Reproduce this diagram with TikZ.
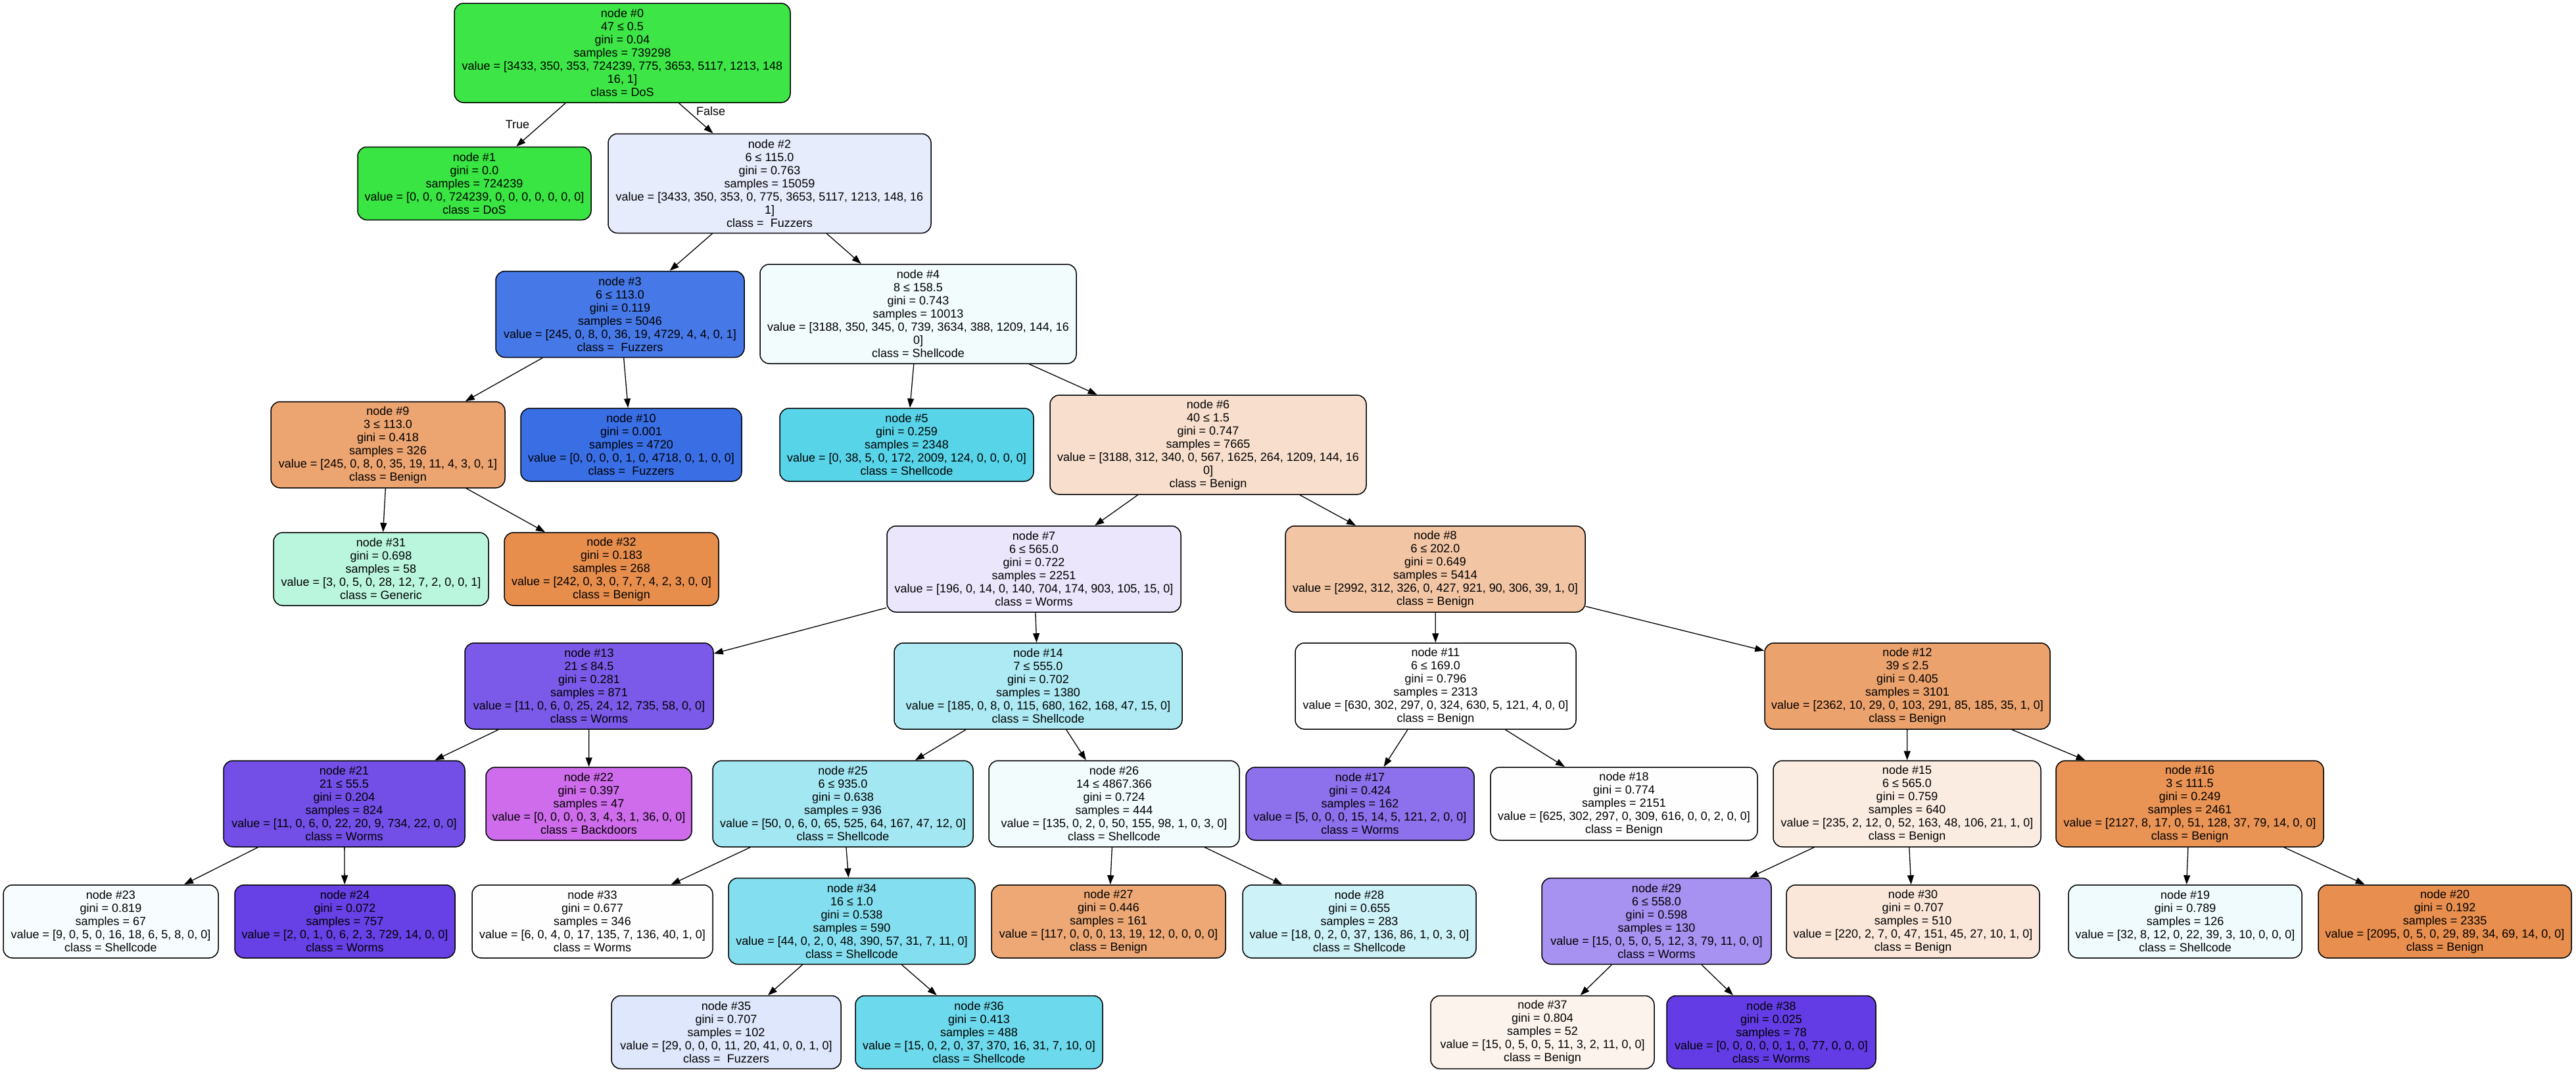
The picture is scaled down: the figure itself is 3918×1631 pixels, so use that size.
\documentclass[tikz,border=0pt]{standalone}
\usepackage{fontspec}
\setmainfont{Liberation Sans}
\usetikzlibrary{arrows.meta}
% fill colours: class colour blended with white by purity
\definecolor{c0}{RGB}{61,230,70}
\definecolor{c1}{RGB}{57,229,66}
\definecolor{c2}{RGB}{230,236,252}
\definecolor{c3}{RGB}{70,120,231}
\definecolor{c4}{RGB}{242,252,253}
\definecolor{c5}{RGB}{88,212,233}
\definecolor{c6}{RGB}{248,222,204}
\definecolor{c7}{RGB}{235,230,252}
\definecolor{c8}{RGB}{242,197,164}
\definecolor{c9}{RGB}{236,164,112}
\definecolor{c10}{RGB}{57,110,229}
\definecolor{c11}{RGB}{255,255,255}
\definecolor{c12}{RGB}{236,162,109}
\definecolor{c13}{RGB}{123,90,233}
\definecolor{c14}{RGB}{173,234,244}
\definecolor{c15}{RGB}{251,236,225}
\definecolor{c16}{RGB}{233,147,85}
\definecolor{c17}{RGB}{141,112,236}
\definecolor{c18}{RGB}{255,254,254}
\definecolor{c19}{RGB}{240,251,253}
\definecolor{c20}{RGB}{232,142,78}
\definecolor{c21}{RGB}{115,79,232}
\definecolor{c22}{RGB}{207,108,236}
\definecolor{c23}{RGB}{247,253,254}
\definecolor{c24}{RGB}{103,64,230}
\definecolor{c25}{RGB}{163,231,243}
\definecolor{c26}{RGB}{242,252,253}
\definecolor{c27}{RGB}{237,168,118}
\definecolor{c28}{RGB}{205,242,248}
\definecolor{c29}{RGB}{167,145,241}
\definecolor{c30}{RGB}{250,231,217}
\definecolor{c31}{RGB}{186,246,222}
\definecolor{c32}{RGB}{232,142,77}
\definecolor{c33}{RGB}{254,254,255}
\definecolor{c34}{RGB}{131,223,239}
\definecolor{c35}{RGB}{222,231,251}
\definecolor{c36}{RGB}{109,217,236}
\definecolor{c37}{RGB}{252,243,236}
\definecolor{c38}{RGB}{99,60,229}
\begin{document}
\begin{tikzpicture}[x=1pt,y=-1pt,
  tn/.style={draw=black, line width=1.5pt, rounded corners=14pt, align=center,
             inner sep=0pt, font=\fontsize{18}{20}\selectfont},
  l5/.style={minimum height=111pt},
  l6/.style={minimum height=131pt},
  l7/.style={minimum height=151pt},
  w/.style={minimum width=#1pt},
  edge/.style={draw=black, line width=1.3pt, -{Triangle[length=14pt,width=10pt]}},
  lbl/.style={font=\fontsize{18}{20}\selectfont, inner sep=0pt}]
\useasboundingbox[fill=white] (0,0) rectangle (3918,1631);

% level 0
\node[tn,l7,w=511,fill=c0] (n0) at (946.5,80.5) {node \#0\\47 ≤ 0.5\\gini = 0.04\\samples = 739298\\value = [3433, 350, 353, 724239, 775, 3653, 5117, 1213, 148\\16, 1]\\class = DoS};
% level 1
\node[tn,l5,w=355,fill=c1] (n1) at (721.5,279) {node \#1\\gini = 0.0\\samples = 724239\\value = [0, 0, 0, 724239, 0, 0, 0, 0, 0, 0, 0]\\class = DoS};
\node[tn,l7,w=491,fill=c2] (n2) at (1170.5,279) {node \#2\\6 ≤ 115.0\\gini = 0.763\\samples = 15059\\value = [3433, 350, 353, 0, 775, 3653, 5117, 1213, 148, 16\\1]\\class = \ Fuzzers};
% level 2
\node[tn,l6,w=378,fill=c3] (n3) at (943,478) {node \#3\\6 ≤ 113.0\\gini = 0.119\\samples = 5046\\value = [245, 0, 8, 0, 36, 19, 4729, 4, 4, 0, 1]\\class = \ Fuzzers};
\node[tn,l7,w=481,fill=c4] (n4) at (1396.5,477.5) {node \#4\\8 ≤ 158.5\\gini = 0.743\\samples = 10013\\value = [3188, 350, 345, 0, 739, 3634, 388, 1209, 144, 16\\0]\\class = Shellcode};
% level 3
\node[tn,l6,w=356,fill=c9] (n9) at (590,676.5) {node \#9\\3 ≤ 113.0\\gini = 0.418\\samples = 326\\value = [245, 0, 8, 0, 35, 19, 11, 4, 3, 0, 1]\\class = Benign};
\node[tn,l5,w=336,fill=c10] (n10) at (960,676.5) {node \#10\\gini = 0.001\\samples = 4720\\value = [0, 0, 0, 0, 1, 0, 4718, 0, 1, 0, 0]\\class = \ Fuzzers};
\node[tn,l5,w=386,fill=c5] (n5) at (1379,676.5) {node \#5\\gini = 0.259\\samples = 2348\\value = [0, 38, 5, 0, 172, 2009, 124, 0, 0, 0, 0]\\class = Shellcode};
\node[tn,l7,w=481,fill=c6] (n6) at (1837.5,676.5) {node \#6\\40 ≤ 1.5\\gini = 0.747\\samples = 7665\\value = [3188, 312, 340, 0, 567, 1625, 264, 1209, 144, 16\\0]\\class = Benign};
% level 4
\node[tn,l5,w=327,fill=c31] (n31) at (579.5,865.5) {node \#31\\gini = 0.698\\samples = 58\\value = [3, 0, 5, 0, 28, 12, 7, 2, 0, 0, 1]\\class = Generic};
\node[tn,l5,w=326,fill=c32] (n32) at (930,865.5) {node \#32\\gini = 0.183\\samples = 268\\value = [242, 0, 3, 0, 7, 7, 4, 2, 3, 0, 0]\\class = Benign};
\node[tn,l6,w=447,fill=c7] (n7) at (1572.5,865.5) {node \#7\\6 ≤ 565.0\\gini = 0.722\\samples = 2251\\value = [196, 0, 14, 0, 140, 704, 174, 903, 105, 15, 0]\\class = Worms};
\node[tn,l6,w=456,fill=c8] (n8) at (2183,865.5) {node \#8\\6 ≤ 202.0\\gini = 0.649\\samples = 5414\\value = [2992, 312, 326, 0, 427, 921, 90, 306, 39, 1, 0]\\class = Benign};
% level 5
\node[tn,l6,w=378,fill=c13] (n13) at (896,1043.5) {node \#13\\21 ≤ 84.5\\gini = 0.281\\samples = 871\\value = [11, 0, 6, 0, 25, 24, 12, 735, 58, 0, 0]\\class = Worms};
\node[tn,l6,w=438,fill=c14] (n14) at (1579,1043.5) {node \#14\\7 ≤ 555.0\\gini = 0.702\\samples = 1380\\value = [185, 0, 8, 0, 115, 680, 162, 168, 47, 15, 0]\\class = Shellcode};
\node[tn,l6,w=427,fill=c11] (n11) at (2183.5,1043.5) {node \#11\\6 ≤ 169.0\\gini = 0.796\\samples = 2313\\value = [630, 302, 297, 0, 324, 630, 5, 121, 4, 0, 0]\\class = Benign};
\node[tn,l6,w=434,fill=c12] (n12) at (2901,1043.5) {node \#12\\39 ≤ 2.5\\gini = 0.405\\samples = 3101\\value = [2362, 10, 29, 0, 103, 291, 85, 185, 35, 1, 0]\\class = Benign};
% level 6
\node[tn,l6,w=367,fill=c21] (n21) at (523.5,1222.5) {node \#21\\21 ≤ 55.5\\gini = 0.204\\samples = 824\\value = [11, 0, 6, 0, 22, 20, 9, 734, 22, 0, 0]\\class = Worms};
\node[tn,l5,w=313,fill=c22] (n22) at (895.5,1222.5) {node \#22\\gini = 0.397\\samples = 47\\value = [0, 0, 0, 0, 3, 4, 3, 1, 36, 0, 0]\\class = Backdoors};
\node[tn,l6,w=396,fill=c25] (n25) at (1282,1222.5) {node \#25\\6 ≤ 935.0\\gini = 0.638\\samples = 936\\value = [50, 0, 6, 0, 65, 525, 64, 167, 47, 12, 0]\\class = Shellcode};
\node[tn,l6,w=381,fill=c26] (n26) at (1694.5,1222.5) {node \#26\\14 ≤ 4867.366\\gini = 0.724\\samples = 444\\value = [135, 0, 2, 0, 50, 155, 98, 1, 0, 3, 0]\\class = Shellcode};
\node[tn,l5,w=347,fill=c17] (n17) at (2068.5,1222.5) {node \#17\\gini = 0.424\\samples = 162\\value = [5, 0, 0, 0, 15, 14, 5, 121, 2, 0, 0]\\class = Worms};
\node[tn,l5,w=406,fill=c18] (n18) at (2470,1222.5) {node \#18\\gini = 0.774\\samples = 2151\\value = [625, 302, 297, 0, 309, 616, 0, 0, 2, 0, 0]\\class = Benign};
\node[tn,l6,w=407,fill=c15] (n15) at (2900.5,1222.5) {node \#15\\6 ≤ 565.0\\gini = 0.759\\samples = 640\\value = [235, 2, 12, 0, 52, 163, 48, 106, 21, 1, 0]\\class = Benign};
\node[tn,l6,w=407,fill=c16] (n16) at (3330.5,1222.5) {node \#16\\3 ≤ 111.5\\gini = 0.249\\samples = 2461\\value = [2127, 8, 17, 0, 51, 128, 37, 79, 14, 0, 0]\\class = Benign};
% level 7
\node[tn,l5,w=327,fill=c23] (n23) at (168.5,1401.5) {node \#23\\gini = 0.819\\samples = 67\\value = [9, 0, 5, 0, 16, 18, 6, 5, 8, 0, 0]\\class = Shellcode};
\node[tn,l5,w=335,fill=c24] (n24) at (524.5,1401.5) {node \#24\\gini = 0.072\\samples = 757\\value = [2, 0, 1, 0, 6, 2, 3, 729, 14, 0, 0]\\class = Worms};
\node[tn,l5,w=366,fill=c33] (n33) at (901,1401.5) {node \#33\\gini = 0.677\\samples = 346\\value = [6, 0, 4, 0, 17, 135, 7, 136, 40, 1, 0]\\class = Worms};
\node[tn,l6,w=375,fill=c34] (n34) at (1295.5,1401) {node \#34\\16 ≤ 1.0\\gini = 0.538\\samples = 590\\value = [44, 0, 2, 0, 48, 390, 57, 31, 7, 11, 0]\\class = Shellcode};
\node[tn,l5,w=356,fill=c27] (n27) at (1686,1401.5) {node \#27\\gini = 0.446\\samples = 161\\value = [117, 0, 0, 0, 13, 19, 12, 0, 0, 0, 0]\\class = Benign};
\node[tn,l5,w=355,fill=c28] (n28) at (2067.5,1401.5) {node \#28\\gini = 0.655\\samples = 283\\value = [18, 0, 2, 0, 37, 136, 86, 1, 0, 3, 0]\\class = Shellcode};
\node[tn,l6,w=349,fill=c29] (n29) at (2519.5,1401) {node \#29\\6 ≤ 558.0\\gini = 0.598\\samples = 130\\value = [15, 0, 5, 0, 5, 12, 3, 79, 11, 0, 0]\\class = Worms};
\node[tn,l5,w=385,fill=c30] (n30) at (2909.5,1401.5) {node \#30\\gini = 0.707\\samples = 510\\value = [220, 2, 7, 0, 47, 151, 45, 27, 10, 1, 0]\\class = Benign};
\node[tn,l5,w=355,fill=c19] (n19) at (3323.5,1401.5) {node \#19\\gini = 0.789\\samples = 126\\value = [32, 8, 12, 0, 22, 39, 3, 10, 0, 0, 0]\\class = Shellcode};
\node[tn,l5,w=385,fill=c20] (n20) at (3718.5,1401.5) {node \#20\\gini = 0.192\\samples = 2335\\value = [2095, 0, 5, 0, 29, 89, 34, 69, 14, 0, 0]\\class = Benign};
% level 8
\node[tn,l5,w=349,fill=c35] (n35) at (1104.5,1570) {node \#35\\gini = 0.707\\samples = 102\\value = [29, 0, 0, 0, 11, 20, 41, 0, 0, 1, 0]\\class = \ Fuzzers};
\node[tn,l5,w=376,fill=c36] (n36) at (1489,1570) {node \#36\\gini = 0.413\\samples = 488\\value = [15, 0, 2, 0, 37, 370, 16, 31, 7, 10, 0]\\class = Shellcode};
\node[tn,l5,w=340,fill=c37] (n37) at (2346,1570) {node \#37\\gini = 0.804\\samples = 52\\value = [15, 0, 5, 0, 5, 11, 3, 2, 11, 0, 0]\\class = Benign};
\node[tn,l5,w=318,fill=c38] (n38) at (2694,1570) {node \#38\\gini = 0.025\\samples = 78\\value = [0, 0, 0, 0, 0, 1, 0, 77, 0, 0, 0]\\class = Worms};

% branches
\draw[edge] (n0) -- (n1);
\draw[edge] (n0) -- (n2);
\node[lbl] (tTrue) at (787,189) {True};
\node[lbl] (tFalse) at (1081,169) {False};
\draw[edge] (n2) -- (n3);
\draw[edge] (n2) -- (n4);
\draw[edge] (n3) -- (n9);
\draw[edge] (n3) -- (n10);
\draw[edge] (n9) -- (n31);
\draw[edge] (n9) -- (n32);
\draw[edge] (n4) -- (n5);
\draw[edge] (n4) -- (n6);
\draw[edge] (n6) -- (n7);
\draw[edge] (n6) -- (n8);
\draw[edge] (n7) -- (n13);
\draw[edge] (n7) -- (n14);
\draw[edge] (n13) -- (n21);
\draw[edge] (n13) -- (n22);
\draw[edge] (n21) -- (n23);
\draw[edge] (n21) -- (n24);
\draw[edge] (n14) -- (n25);
\draw[edge] (n14) -- (n26);
\draw[edge] (n25) -- (n33);
\draw[edge] (n25) -- (n34);
\draw[edge] (n34) -- (n35);
\draw[edge] (n34) -- (n36);
\draw[edge] (n26) -- (n27);
\draw[edge] (n26) -- (n28);
\draw[edge] (n8) -- (n11);
\draw[edge] (n8) -- (n12);
\draw[edge] (n11) -- (n17);
\draw[edge] (n11) -- (n18);
\draw[edge] (n12) -- (n15);
\draw[edge] (n12) -- (n16);
\draw[edge] (n15) -- (n29);
\draw[edge] (n15) -- (n30);
\draw[edge] (n29) -- (n37);
\draw[edge] (n29) -- (n38);
\draw[edge] (n16) -- (n19);
\draw[edge] (n16) -- (n20);
\end{tikzpicture}
\end{document}
